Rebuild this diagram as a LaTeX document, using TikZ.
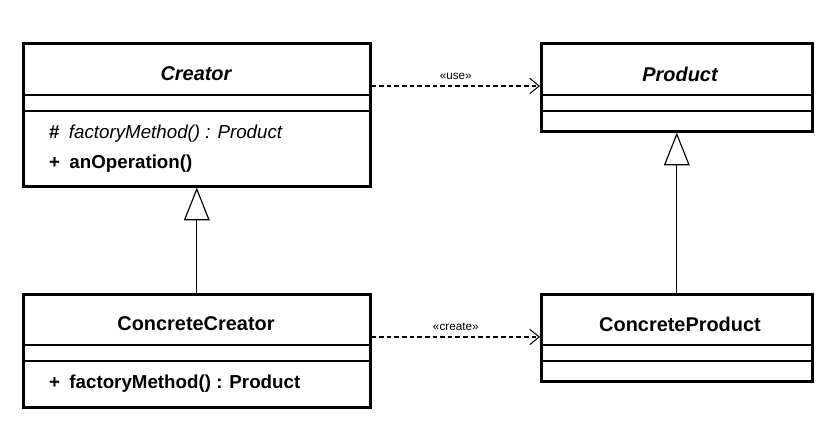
\documentclass[tikz,border=0pt]{standalone}
\usepackage{fontspec}
\setmainfont{Liberation Sans}
\usetikzlibrary{arrows.meta}
\begin{document}
\begin{tikzpicture}[x=0.03cm, y=-0.03cm]
	\tikzset{box/.style = {draw=black, line width=2.2pt, anchor=north west, inner sep=0pt, minimum width=#1*0.03cm},
		sep/.style = {draw=black, line width=0.9pt},
		inherit/.style = {draw=black, line width=1pt, -{Triangle[open, length=28pt, width=22pt]}},
		dep/.style = {draw=black, line width=0.9pt, dash pattern=on 4pt off 2.5pt, -{Straight Barb[length=8pt, width=13pt]}},
		stereo/.style = {font=\fontsize{10}{12}\selectfont}}
	\fill[white] (0,0) rectangle (840,428);

	% boxes
	\node[box=347, minimum height=143*0.03cm] (creator) at (22,42) {};
	\node[box=271, minimum height=88*0.03cm] (product) at (540,42) {};
	\node[box=347, minimum height=113*0.03cm] (ccreator) at (22,293) {};
	\node[box=271, minimum height=87*0.03cm] (cproduct) at (540,293) {};

	% compartments
	\foreach \b/\l/\r/\y in {creator/22/369/95, creator/22/369/111, product/540/811/95, product/540/811/111,
		ccreator/22/369/345, ccreator/22/369/361, cproduct/540/811/345, cproduct/540/811/361}
		\draw[sep] (\l,\y) -- (\r,\y);

	% names
	\node[font=\fontsize{17}{19}\selectfont\bfseries\itshape] (creatorname) at (196,74) {Creator};
	\node[font=\fontsize{17}{19}\selectfont\bfseries\itshape] (productname) at (680,74) {Product};
	\node[font=\fontsize{17}{19}\selectfont\bfseries] (ccreatorname) at (196,324) {ConcreteCreator};
	\node[font=\fontsize{17}{19}\selectfont\bfseries] (cproductname) at (680,324) {ConcreteProduct};

	% operations
	\node[anchor=west, font=\fontsize{16}{18}\selectfont] (op1) at (45,134) {\textbf{\#}\hspace{8pt}\textit{factoryMethod() : Product}};
	\node[anchor=west, font=\fontsize{16}{18}\selectfont\bfseries] (op2) at (45,164) {+\hspace{8pt}anOperation()};
	\node[anchor=west, font=\fontsize{16}{18}\selectfont\bfseries] (op3) at (45,384) {+\hspace{8pt}factoryMethod() : Product};

	% relations
	\draw[inherit] (ccreator.north -| creator.south) -- (creator.south);
	\draw[inherit] (cproduct.north) -- (product.south);
	\draw[dep] (creator.east |- 0,86) -- node[stereo, above=2pt] {«use»} (product.west |- 0,86);
	\draw[dep] (ccreator.east |- 0,337) -- node[stereo, above=2pt] {«create»} (cproduct.west |- 0,337);
\end{tikzpicture}
\end{document}
